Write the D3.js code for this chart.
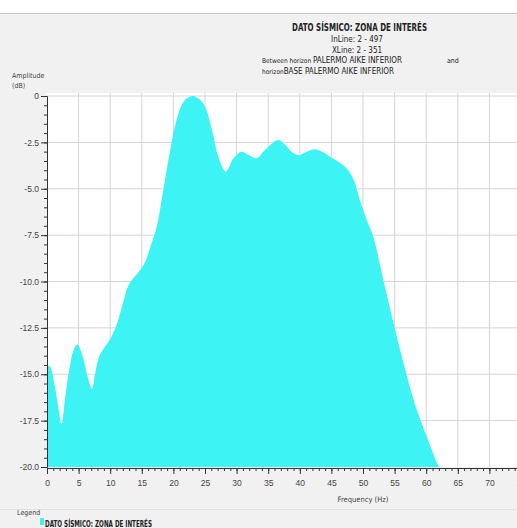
<!DOCTYPE html>
<html>
<head>
<meta charset="utf-8">
<script src="https://cdn.jsdelivr.net/npm/d3@7"></script>
<style>
  body { margin: 0; background: #f1f1f1; }
  svg { display: block; font-family: "Liberation Sans Narrow", "DejaVu Sans Condensed", "Open Sans", sans-serif; }
  .axis path, .axis line { stroke: #333; }
  .axis text { fill: #444; font-size: 8.5px; }
</style>
</head>
<body>
<div id="chart"></div>
<script>
// spectrum: frequency (Hz) / amplitude (dB)
const freqHz = [0, 0.5, 1.2, 1.8, 2.3, 2.9, 3.6, 4.2, 4.8, 5.6, 6.4, 7.1, 7.6, 8.2, 8.8, 10, 11, 12.0, 12.9, 14.7, 15.6, 16.3, 17.4, 18.4, 19.5, 20.5, 21.8, 23.1, 24.7, 26.1, 27.1, 28.3, 29.5, 30.8, 31.9, 33.2, 34.5, 36.6, 37.7, 38.7, 39.8, 41.1, 42.4, 43.5, 44.8, 46.1, 47.4, 48.5, 49.5, 50.6, 51.6, 53.2, 54.8, 56.4, 58.2, 60.1, 61.9, 62.2];
const amplitudeDb = [-14.5, -14.6, -15.6, -16.8, -17.7, -16.2, -14.6, -13.7, -13.4, -14.0, -15.1, -15.8, -15.0, -14.1, -13.7, -13.1, -12.35, -11.2, -10.2, -9.4, -8.9, -8.2, -7.0, -5.07, -2.91, -1.29, -0.22, 0, -0.39, -1.83, -3.27, -4.08, -3.36, -3.0, -3.18, -3.36, -2.9, -2.37, -2.64, -3.0, -3.18, -3.0, -2.87, -3.0, -3.27, -3.54, -3.9, -4.5, -5.6, -6.7, -7.55, -9.9, -12.2, -14.4, -16.6, -18.37, -19.9, -20];

const xMajorTicks = d3.range(0, 76, 5);
const xMinorTicks = d3.range(0, 76, 1);
const yMajorTicks = [-20, -17.5, -15, -12.5, -10, -7.5, -5, -2.5, 0];
const yMinorTicks = d3.range(-20, 0.01, 0.5);

const width = 517, height = 528;
const plot = { left: 47, top: 93, right: 517, bottom: 467 };

const svg = d3.select("#chart").append("svg")
  .attr("width", width)
  .attr("height", height);

// backgrounds
svg.append("rect").attr("width", width).attr("height", 13).attr("fill", "#fff");
svg.append("line").attr("x1", 0).attr("x2", width).attr("y1", 13.5).attr("y2", 13.5)
  .attr("stroke", "#c8c8c8");
svg.append("rect")
  .attr("x", plot.left).attr("y", plot.top)
  .attr("width", plot.right - plot.left).attr("height", plot.bottom - plot.top)
  .attr("fill", "#fff");

const x = d3.scaleLinear().domain([0, 75]).range([47, 47 + 75 * 6.32]);
const y = d3.scaleLinear().domain([-20, 0]).range([467, 96]);

// grid
svg.append("g").selectAll("line")
  .data(xMajorTicks.filter(d => d > 0))
  .join("line")
  .attr("x1", d => x(d)).attr("x2", d => x(d))
  .attr("y1", plot.top).attr("y2", plot.bottom)
  .attr("stroke", "#d9d3d6");

svg.append("g").selectAll("line")
  .data(yMajorTicks.filter(d => d > -20))
  .join("line")
  .attr("x1", plot.left).attr("x2", plot.right)
  .attr("y1", d => y(d)).attr("y2", d => y(d))
  .attr("stroke", "#d9d3d6");

// filled spectrum
const pts = freqHz.map((f, i) => ({ f, a: amplitudeDb[i] }));
const area = d3.area()
  .x(d => x(d.f))
  .y0(y(-20))
  .y1(d => y(d.a))
  .curve(d3.curveCatmullRom.alpha(0.5));

svg.append("path")
  .datum(pts)
  .attr("d", area)
  .attr("fill", "#3ef3f3");

// axes
const xAxis = svg.append("g")
  .attr("class", "axis")
  .attr("transform", `translate(0,${plot.bottom + 1})`);
xAxis.call(d3.axisBottom(x).tickValues(xMinorTicks).tickSize(3).tickFormat(""));
xAxis.append("g").call(d3.axisBottom(x).tickValues(xMajorTicks).tickSize(6).tickPadding(6));
xAxis.select("g .domain").remove();

const yAxis = svg.append("g")
  .attr("class", "axis")
  .attr("transform", `translate(${plot.left},0)`);
yAxis.call(d3.axisLeft(y).tickValues(yMinorTicks).tickSize(3).tickFormat(""));
yAxis.append("g").call(d3.axisLeft(y).tickValues(yMajorTicks).tickSize(6).tickPadding(2)
  .tickFormat(d => d === 0 ? "0" : d3.format(".1f")(d).replace("−", "-")));
yAxis.select("g .domain").remove();

// titles
const title = svg.append("g").attr("fill", "#222");
title.append("text").attr("x", 292).attr("y", 31)
  .attr("font-weight", "bold").attr("font-size", 10.5)
  .attr("textLength", 135).attr("lengthAdjust", "spacingAndGlyphs")
  .text("DATO SÍSMICO: ZONA DE INTERÉS");
title.append("text").attr("x", 357).attr("y", 42).attr("text-anchor", "middle")
  .attr("font-size", 8).text("InLine: 2 - 497");
title.append("text").attr("x", 357).attr("y", 53).attr("text-anchor", "middle")
  .attr("font-size", 8).text("XLine: 2 - 351");

const l1 = title.append("text").attr("x", 262).attr("y", 63);
l1.append("tspan").attr("font-size", 6.5).text("Between horizon ");
l1.append("tspan").attr("font-size", 8).text(" PALERMO AIKE INFERIOR");
title.append("text").attr("x", 447).attr("y", 63).attr("font-size", 7).text("and");
const l2 = title.append("text").attr("x", 262).attr("y", 74);
l2.append("tspan").attr("font-size", 6.5).text("horizon");
l2.append("tspan").attr("font-size", 8).text("BASE PALERMO AIKE INFERIOR");

svg.append("text").attr("x", 12).attr("y", 78).attr("font-size", 7).attr("fill", "#444").text("Amplitude");
svg.append("text").attr("x", 12).attr("y", 88).attr("font-size", 7).attr("fill", "#444").text("(dB)");

svg.append("text").attr("x", 363).attr("y", 502).attr("text-anchor", "middle")
  .attr("font-size", 7.5).attr("fill", "#444").text("Frequency (Hz)");

svg.append("line").attr("x1", 0).attr("x2", width).attr("y1", 509.5).attr("y2", 509.5)
  .attr("stroke", "#e2e2e2");

// legend
svg.append("text").attr("x", 17).attr("y", 515).attr("font-size", 7).attr("fill", "#444").text("Legend");
svg.append("rect").attr("x", 40).attr("y", 518).attr("width", 4).attr("height", 7).attr("fill", "#3ef3f3");
svg.append("text").attr("x", 45).attr("y", 527).attr("font-size", 9).attr("font-weight", "bold")
  .attr("textLength", 107).attr("lengthAdjust", "spacingAndGlyphs")
  .attr("fill", "#222").text("DATO SÍSMICO: ZONA DE INTERÉS");
</script>
</body>
</html>
